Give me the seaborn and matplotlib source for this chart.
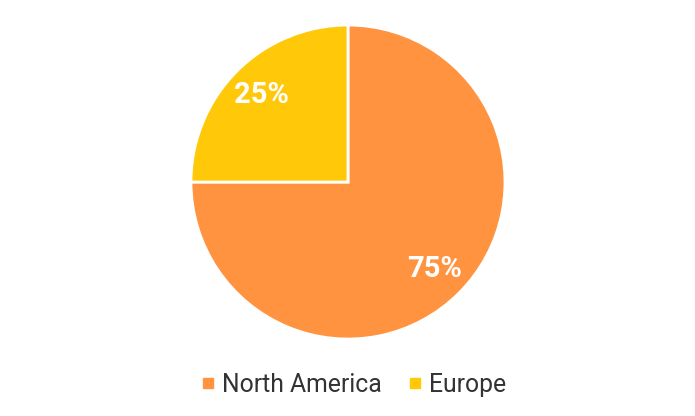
import matplotlib
matplotlib.use("Agg")
import matplotlib.pyplot as plt
from matplotlib.lines import Line2D
import seaborn as sns

regions = ["North America", "Europe"]
shares = [75, 25]
colors = ["#FF933F", "#FFC90A"]

sns.set_theme(style="white")
plt.rcParams["font.family"] = ["Roboto", "DejaVu Sans"]

fig = plt.figure(figsize=(6.95, 4.16), dpi=100)
ax = fig.add_axes([0.2748, 0.185, 0.4518, 0.7548])

wedges, texts, autotexts = ax.pie(
    shares,
    colors=colors,
    startangle=90,
    counterclock=False,
    autopct="%d%%",
    pctdistance=0.78,
    wedgeprops=dict(edgecolor="white", linewidth=2),
    textprops=dict(color="white", fontsize=21, fontweight="bold"),
)
ax.set_xlim(-1.0, 1.0)
ax.set_ylim(-1.0, 1.0)
ax.set_aspect("equal")
for w in wedges:
    w.set_clip_on(False)

handles = [
    Line2D([], [], marker="s", linestyle="none", markersize=7.5, color=c)
    for c in colors
]
fig.legend(
    handles,
    regions,
    loc="center",
    bbox_to_anchor=(0.508, 0.075),
    ncol=2,
    frameon=False,
    fontsize=17.8,
    labelcolor="#333333",
    handlelength=0.6,
    handletextpad=0.26,
    columnspacing=1.06,
)

fig.savefig("out.png", dpi=100)
